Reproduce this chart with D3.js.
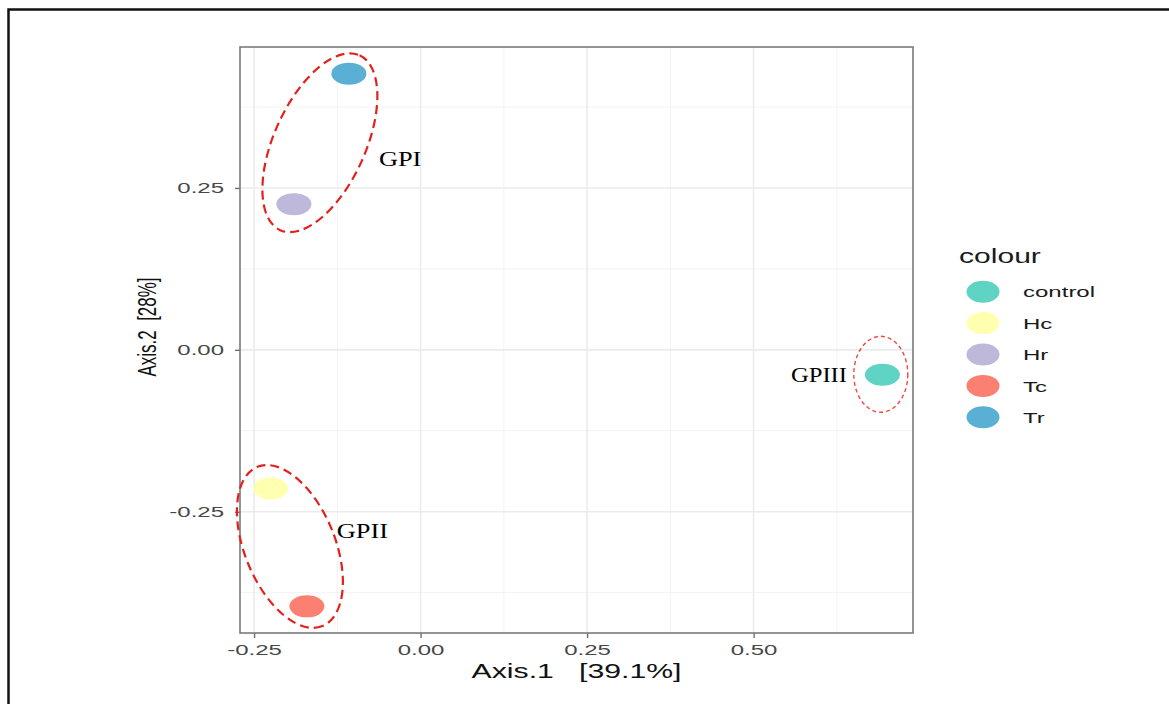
<!DOCTYPE html>
<html>
<head>
<meta charset="utf-8">
<script src="https://cdn.jsdelivr.net/npm/d3@7"></script>
<style>
  html, body { margin: 0; padding: 0; background: #ffffff; }
  svg { display: block; }
  text { font-family: "Liberation Sans", Arial, Helvetica, sans-serif; }
  .serif { font-family: "Liberation Serif", "Times New Roman", Times, serif; }
</style>
</head>
<body>
<svg id="chart" width="1169" height="704"></svg>
<script>
// PCoA ordination: one point per treatment
const samples = ["control", "Hc", "Hr", "Tc", "Tr"];
const axis1 = [0.6934, -0.2252, -0.1902, -0.1707, -0.1077];
const axis2 = [-0.0385, -0.2142, 0.2250, -0.3961, 0.4265];
const sampleColours = ["#5fd3c4", "#ffffb0", "#beb9da", "#fb8072", "#5aafd5"];

const xTicks = [-0.25, 0, 0.25, 0.5];
const xTickLabels = ["-0.25", "0.00", "0.25", "0.50"];
const yTicks = [-0.25, 0, 0.25];
const yTickLabels = ["-0.25", "0.00", "0.25"];
const xMinor = [-0.125, 0.125, 0.375, 0.625];
const yMinor = [-0.375, -0.125, 0.125, 0.375];

const xTitle = "Axis.1   [39.1%]";
const yTitle = "Axis.2  [28%]";
const legendTitle = "colour";

// Group annotations (centre given in axis units)
const groupNames = ["GPI", "GPII", "GPIII"];
const groupCentreX = [-0.1512, -0.1962, 0.6910];
const groupCentreY = [0.3198, -0.3036, -0.0378];
const groupLabelX = [-0.0626, -0.1260, 0.5560];
const groupLabelY = [0.2844, -0.2905, -0.0500];

// ---- layout ----
const panel = { left: 240, right: 913, top: 47, bottom: 633 };
const stretch = 1.55;          // horizontal glyph aspect of the plot text

const expand = ext => {
  const pad = (ext[1] - ext[0]) * 0.05;
  return [ext[0] - pad, ext[1] + pad];
};

const x = d3.scaleLinear().domain(expand(d3.extent(axis1))).range([panel.left, panel.right]);
const y = d3.scaleLinear().domain(expand(d3.extent(axis2))).range([panel.bottom, panel.top]);
const colour = d3.scaleOrdinal().domain(samples).range(sampleColours);

const svg = d3.select("#chart");

// outer frame
svg.append("rect")
  .attr("x", 8.5).attr("y", 9.5)
  .attr("width", 1200).attr("height", 720)
  .attr("fill", "none").attr("stroke", "#111").attr("stroke-width", 2.5);

// panel grid
const grid = svg.append("g");
grid.selectAll("line.vminor").data(xMinor).join("line")
  .attr("x1", d => x(d)).attr("x2", d => x(d))
  .attr("y1", panel.top).attr("y2", panel.bottom)
  .attr("stroke", "#f3f3f3").attr("stroke-width", 1);
grid.selectAll("line.hminor").data(yMinor).join("line")
  .attr("y1", d => y(d)).attr("y2", d => y(d))
  .attr("x1", panel.left).attr("x2", panel.right)
  .attr("stroke", "#f3f3f3").attr("stroke-width", 1);
grid.selectAll("line.vmajor").data(xTicks).join("line")
  .attr("x1", d => x(d)).attr("x2", d => x(d))
  .attr("y1", panel.top).attr("y2", panel.bottom)
  .attr("stroke", "#ebebeb").attr("stroke-width", 1.6);
grid.selectAll("line.hmajor").data(yTicks).join("line")
  .attr("y1", d => y(d)).attr("y2", d => y(d))
  .attr("x1", panel.left).attr("x2", panel.right)
  .attr("stroke", "#ebebeb").attr("stroke-width", 1.6);

// axes
const xAxis = svg.append("g")
  .attr("transform", `translate(0,${panel.bottom})`)
  .call(d3.axisBottom(x).tickValues(xTicks)
    .tickFormat((d, i) => xTickLabels[i]).tickSize(5).tickPadding(6));
const yAxis = svg.append("g")
  .attr("transform", `translate(${panel.left},0)`)
  .call(d3.axisLeft(y).tickValues(yTicks)
    .tickFormat((d, i) => yTickLabels[i]).tickSize(5).tickPadding(5.3));

[xAxis, yAxis].forEach(a => {
  a.select(".domain").remove();
  a.selectAll(".tick line").attr("stroke", "#6e6e6e").attr("stroke-width", 1.4);
  a.selectAll(".tick text")
    .attr("fill", "#474747")
    .attr("font-size", 15.5)
    .attr("font-family", null)
    .attr("transform", `scale(${stretch},1)`);
});

// panel border
svg.append("rect")
  .attr("x", panel.left).attr("y", panel.top)
  .attr("width", panel.right - panel.left).attr("height", panel.bottom - panel.top)
  .attr("fill", "none").attr("stroke", "#7a7a7a").attr("stroke-width", 1.6);

// axis titles
svg.append("text")
  .attr("transform", `translate(${(panel.left + panel.right) / 2},678) scale(${stretch},1)`)
  .attr("text-anchor", "middle")
  .attr("font-size", 19.5)
  .attr("fill", "#111")
  .style("white-space", "pre")
  .text(xTitle);

svg.append("text")
  .attr("transform", `translate(156,327) scale(${stretch},1) rotate(-90)`)
  .attr("text-anchor", "middle")
  .attr("font-size", 17)
  .attr("fill", "#111")
  .style("white-space", "pre")
  .text(yTitle);

// points
svg.append("g").selectAll("ellipse").data(samples).join("ellipse")
  .attr("cx", (d, i) => x(axis1[i]))
  .attr("cy", (d, i) => y(axis2[i]))
  .attr("rx", 17.5).attr("ry", 11)
  .attr("fill", d => colour(d));

// group ellipses and their labels
const ringShape = [
  { rx: 96, ry: 45.7, angle: -65.6, width: 2.2, dash: "9,5", stroke: "#e3211c", textScale: 1.2 },
  { rx: 86, ry: 45.2, angle: 67.8, width: 2.2, dash: "9,5", stroke: "#e3211c", textScale: 1.2 },
  { rx: 27, ry: 38, angle: 0, width: 1.4, dash: "4,3", stroke: "#ef4a44", textScale: 1.12 }
];
svg.append("g").selectAll("ellipse").data(groupNames).join("ellipse")
  .attr("transform", (d, i) =>
    `translate(${x(groupCentreX[i])},${y(groupCentreY[i])}) rotate(${ringShape[i].angle})`)
  .attr("rx", (d, i) => ringShape[i].rx)
  .attr("ry", (d, i) => ringShape[i].ry)
  .attr("fill", "none")
  .attr("stroke", (d, i) => ringShape[i].stroke)
  .attr("stroke-width", (d, i) => ringShape[i].width)
  .attr("stroke-dasharray", (d, i) => ringShape[i].dash);

svg.append("g").selectAll("text").data(groupNames).join("text")
  .attr("class", "serif")
  .attr("transform", (d, i) =>
    `translate(${x(groupLabelX[i])},${y(groupLabelY[i])}) scale(${ringShape[i].textScale},1)`)
  .attr("font-size", 22)
  .attr("fill", "#000")
  .text(d => d);

// legend
const legend = svg.append("g");
legend.append("text")
  .attr("transform", `translate(959,263) scale(${stretch},1)`)
  .attr("font-size", 19.4)
  .attr("fill", "#1a1a1a")
  .text(legendTitle);

const keyY = d3.scalePoint().domain(samples).range([291.7, 417.3]);
const keys = legend.selectAll("g.key").data(samples).join("g")
  .attr("transform", d => `translate(0,${keyY(d)})`);
keys.append("ellipse")
  .attr("cx", 983).attr("cy", 0)
  .attr("rx", 16.5).attr("ry", 11)
  .attr("fill", d => colour(d));
keys.append("text")
  .attr("transform", `translate(1023,5.6) scale(${stretch},1)`)
  .attr("font-size", 15.5)
  .attr("fill", "#1a1a1a")
  .text(d => d);
</script>
</body>
</html>
